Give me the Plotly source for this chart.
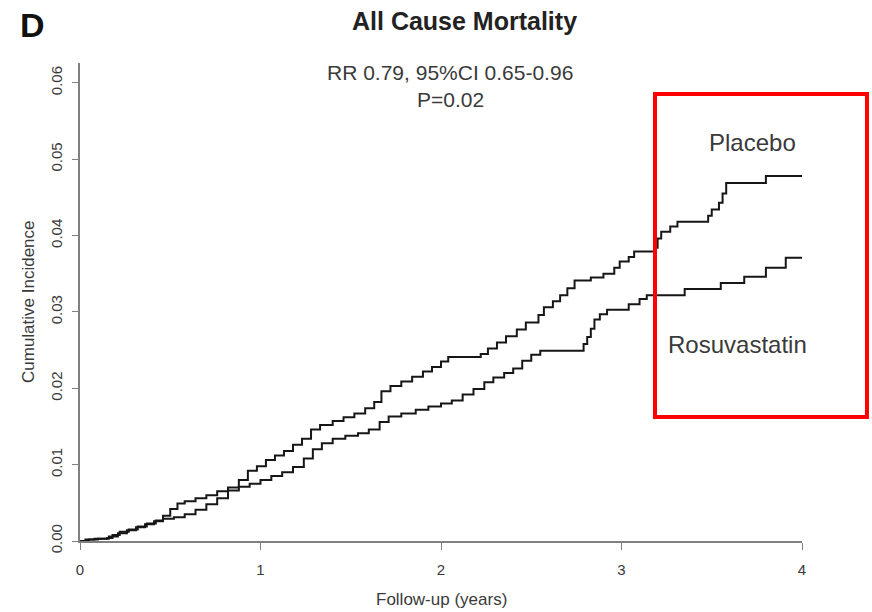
import plotly.graph_objects as go

# Placebo cumulative incidence (step function)
placebo_t = [0.00, 0.03, 0.08, 0.15, 0.18, 0.22, 0.27, 0.32, 0.37, 0.42, 0.46, 0.50, 0.54, 0.58,
             0.64, 0.70, 0.76, 0.82, 0.88, 0.93, 0.98, 1.03, 1.08, 1.13, 1.18, 1.23, 1.28, 1.33,
             1.40, 1.46, 1.52, 1.58, 1.63, 1.67, 1.72, 1.78, 1.84, 1.90, 1.95, 2.00, 2.04, 2.22,
             2.26, 2.31, 2.36, 2.42, 2.47, 2.54, 2.57, 2.62, 2.66, 2.70, 2.74, 2.83, 2.90, 2.96,
             2.99, 3.04, 3.07, 3.18, 3.20, 3.22, 3.27, 3.31, 3.48, 3.50, 3.54, 3.56, 3.58, 3.80, 4.00]
placebo_y = [0.0000, 0.0002, 0.0003, 0.0004, 0.0008, 0.0012, 0.0015, 0.0019, 0.0023, 0.0027, 0.0033,
             0.0042, 0.0049, 0.0052, 0.0056, 0.0060, 0.0065, 0.0070, 0.0080, 0.0092, 0.0098, 0.0106,
             0.0112, 0.0118, 0.0126, 0.0134, 0.0146, 0.0152, 0.0157, 0.0162, 0.0167, 0.0174, 0.0182,
             0.0196, 0.0203, 0.0209, 0.0215, 0.0222, 0.0228, 0.0235, 0.0241, 0.0245, 0.0252, 0.0260,
             0.0268, 0.0277, 0.0286, 0.0296, 0.0306, 0.0314, 0.0322, 0.0331, 0.0341, 0.0345, 0.0350,
             0.0358, 0.0366, 0.0372, 0.0379, 0.0384, 0.0396, 0.0405, 0.0412, 0.0418, 0.0426, 0.0434,
             0.0443, 0.0455, 0.0469, 0.0478, 0.0478]

# Rosuvastatin cumulative incidence (step function)
rosu_t = [0.00, 0.05, 0.10, 0.16, 0.21, 0.26, 0.31, 0.36, 0.41, 0.46, 0.52, 0.58, 0.64, 0.70, 0.76,
          0.82, 0.88, 0.94, 1.00, 1.06, 1.12, 1.18, 1.24, 1.29, 1.34, 1.40, 1.47, 1.54, 1.60, 1.66,
          1.71, 1.78, 1.86, 1.93, 2.00, 2.06, 2.12, 2.18, 2.24, 2.29, 2.35, 2.40, 2.45, 2.50, 2.55,
          2.79, 2.81, 2.83, 2.85, 2.88, 2.92, 3.04, 3.10, 3.14, 3.35, 3.55, 3.68, 3.80, 3.91, 4.00]
rosu_y = [0.0000, 0.0002, 0.0003, 0.0006, 0.0010, 0.0014, 0.0018, 0.0022, 0.0026, 0.0029, 0.0031,
          0.0035, 0.0041, 0.0048, 0.0056, 0.0066, 0.0071, 0.0075, 0.0080, 0.0085, 0.0090, 0.0097,
          0.0108, 0.0120, 0.0128, 0.0134, 0.0138, 0.0141, 0.0146, 0.0156, 0.0163, 0.0167, 0.0172,
          0.0176, 0.0180, 0.0184, 0.0192, 0.0199, 0.0208, 0.0214, 0.0220, 0.0226, 0.0236, 0.0244,
          0.0249, 0.0258, 0.0267, 0.0278, 0.0290, 0.0297, 0.0303, 0.0310, 0.0317, 0.0322, 0.0330,
          0.0338, 0.0346, 0.0358, 0.0371, 0.0371]

x_ticks = [0, 1, 2, 3, 4]
y_ticks = [0.00, 0.01, 0.02, 0.03, 0.04, 0.05, 0.06]

FONT = "Liberation Sans, Arial, sans-serif"
LINE = "#161616"
AXIS = "#808080"
TXT = "#3a3a3a"

fig = go.Figure()
fig.add_trace(go.Scatter(x=placebo_t, y=placebo_y, mode="lines", line=dict(color=LINE, width=2, shape="hv"),
                         name="Placebo", showlegend=False, hoverinfo="skip"))
fig.add_trace(go.Scatter(x=rosu_t, y=rosu_y, mode="lines", line=dict(color=LINE, width=2, shape="hv"),
                         name="Rosuvastatin", showlegend=False, hoverinfo="skip"))

fig.update_layout(
    width=872, height=612,
    margin=dict(l=80, r=70, t=63, b=71),
    paper_bgcolor="white", plot_bgcolor="white",
    font=dict(family=FONT, color=TXT),
    showlegend=False,
)
fig.update_xaxes(range=[0, 4], tickvals=x_ticks, ticktext=[str(v) for v in x_ticks],
                 showgrid=False, zeroline=False, showline=True, linecolor=AXIS, linewidth=2,
                 ticks="outside", ticklen=7, tickcolor=AXIS, tickwidth=1, ticklabelstandoff=7,
                 tickfont=dict(size=15, color=TXT, family=FONT))
fig.update_yaxes(range=[0, 0.0626], tickvals=y_ticks, ticktext=[f"{v:.2f}" for v in y_ticks],
                 tickangle=-90, showgrid=False, zeroline=False, showline=True, linecolor=AXIS, linewidth=2,
                 ticks="outside", ticklen=6, tickcolor=AXIS, tickwidth=1, ticklabelstandoff=4,
                 tickfont=dict(size=15, color=TXT, family=FONT))

ann = []
ann.append(dict(text="<b>D</b>", x=-0.066, y=1.0795, xref="paper", yref="paper", showarrow=False,
                xanchor="center", yanchor="middle", font=dict(size=34, color="#111", family=FONT)))
ann.append(dict(text="<b>All Cause Mortality</b>", x=0.533, y=1.088, xref="paper", yref="paper", showarrow=False,
                xanchor="center", yanchor="middle", font=dict(size=25, color="#222", family=FONT)))
ann.append(dict(text="RR 0.79, 95%CI 0.65-0.96", x=2.05, y=0.0613, xref="x", yref="y", showarrow=False,
                xanchor="center", yanchor="middle", font=dict(size=21, color=TXT, family=FONT)))
ann.append(dict(text="P=0.02", x=2.055, y=0.0578, xref="x", yref="y", showarrow=False,
                xanchor="center", yanchor="middle", font=dict(size=21, color=TXT, family=FONT)))
ann.append(dict(text="Placebo", x=3.723, y=0.0522, xref="x", yref="y", showarrow=False,
                xanchor="center", yanchor="middle", font=dict(size=24, color=TXT, family=FONT)))
ann.append(dict(text="Rosuvastatin", x=3.645, y=0.0257, xref="x", yref="y", showarrow=False,
                xanchor="center", yanchor="middle", font=dict(size=24, color=TXT, family=FONT)))
ann.append(dict(text="Cumulative Incidence", x=-0.072, y=0.5, xref="paper", yref="paper", showarrow=False,
                xanchor="center", yanchor="middle", textangle=-90,
                font=dict(size=17, color=TXT, family=FONT)))
ann.append(dict(text="Follow-up (years)", x=0.5, y=-0.1234, xref="paper", yref="paper", showarrow=False,
                xanchor="center", yanchor="middle", font=dict(size=17, color=TXT, family=FONT)))
fig.update_layout(annotations=ann)

fig.add_shape(type="rect", xref="paper", yref="paper", x0=0.7964, x1=1.090, y0=0.2594, y1=0.9351,
              line=dict(color="#ff0000", width=4), fillcolor="rgba(0,0,0,0)")

fig.write_html("out.html")
